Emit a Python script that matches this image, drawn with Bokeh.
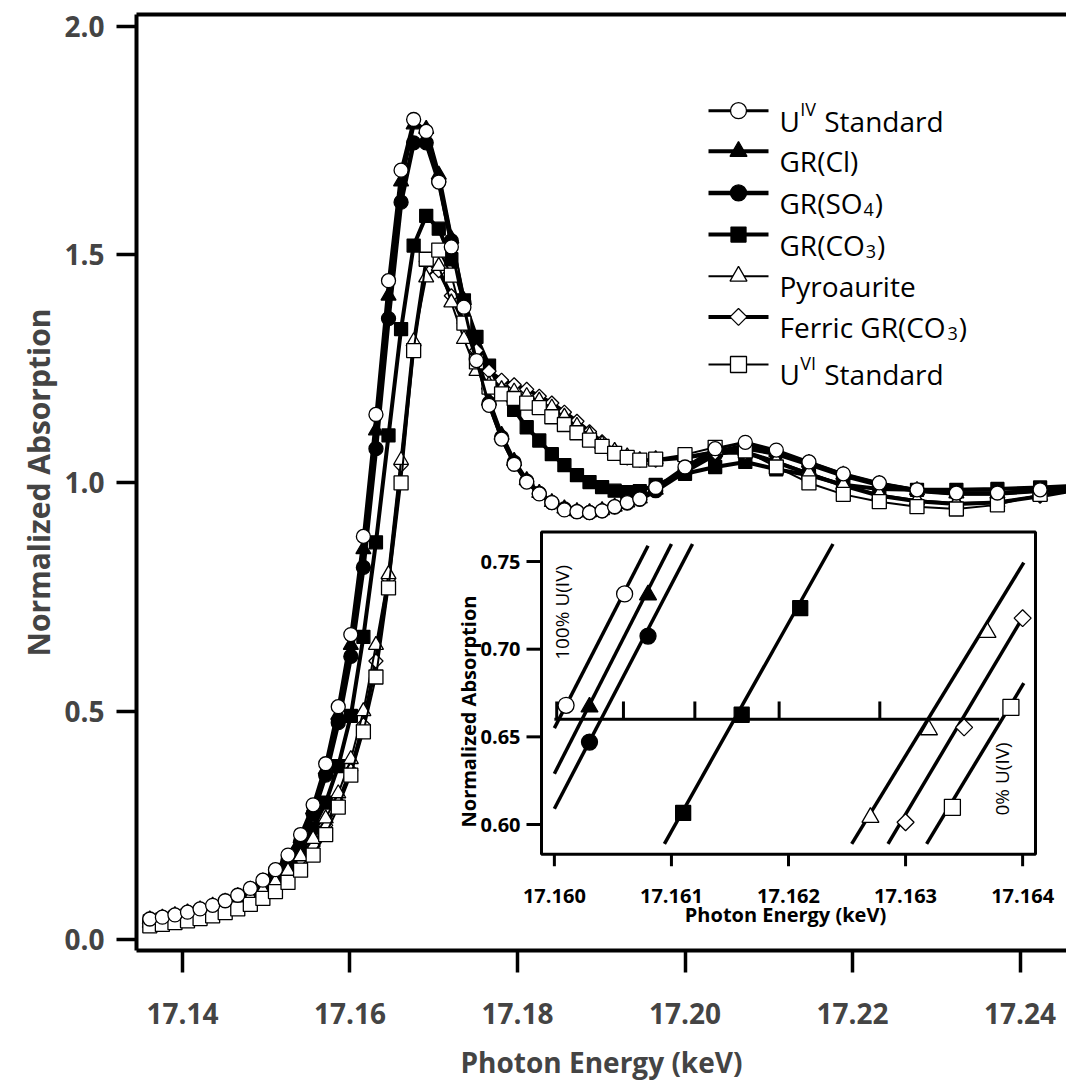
import numpy as np
from bokeh.plotting import figure
from bokeh.models import Range1d, FixedTicker, PrintfTickFormatter, LinearAxis
from bokeh.core.properties import value
from bokeh.embed import file_html
from bokeh.resources import INLINE

# ---------------- data ----------------
ENERGY = [17.1361, 17.1376, 17.1391, 17.1406, 17.1421, 17.1436, 17.1451, 17.1466, 17.1481, 17.1496,
          17.1511, 17.1526, 17.1541,
          17.1556, 17.1571, 17.1586, 17.1601, 17.1616, 17.1631, 17.1646, 17.1661, 17.1676, 17.1691,
          17.1706, 17.1721, 17.1736, 17.1751, 17.1766, 17.1781, 17.1796, 17.1811, 17.1826, 17.1841,
          17.1856, 17.1871, 17.1886, 17.1901, 17.1916, 17.1931, 17.1946,
          17.1965, 17.2000, 17.2036, 17.2072, 17.2109, 17.2148, 17.2189, 17.2232, 17.2277, 17.2324,
          17.2373, 17.2424, 17.2477]

U_IV = [0.045, 0.049, 0.054, 0.060, 0.067, 0.075, 0.085, 0.097, 0.112, 0.130, 0.153, 0.185, 0.230,
        0.295, 0.385, 0.510, 0.668, 0.883, 1.150, 1.443, 1.685, 1.796, 1.770, 1.659, 1.517, 1.385,
        1.268, 1.170, 1.096, 1.041, 1.002, 0.976, 0.957, 0.941, 0.937, 0.935, 0.939, 0.948, 0.957, 0.965,
        0.990, 1.035, 1.075, 1.089, 1.072, 1.046, 1.020, 1.000, 0.985, 0.978, 0.978, 0.985, 0.990]
GR_CL = [0.044, 0.048, 0.053, 0.059, 0.066, 0.074, 0.083, 0.095, 0.109, 0.127, 0.149, 0.179, 0.222,
         0.285, 0.372, 0.492, 0.645, 0.855, 1.115, 1.410, 1.660, 1.785, 1.775, 1.675, 1.535, 1.400,
         1.280, 1.180, 1.105, 1.048, 1.006, 0.978, 0.958, 0.944, 0.938, 0.936, 0.940, 0.948, 0.957, 0.966,
         0.985, 1.030, 1.068, 1.082, 1.068, 1.044, 1.018, 0.998, 0.984, 0.977, 0.977, 0.984, 0.990]
GR_SO4 = [0.043, 0.047, 0.052, 0.058, 0.064, 0.072, 0.081, 0.092, 0.106, 0.123, 0.145, 0.174, 0.215,
          0.276, 0.360, 0.475, 0.620, 0.815, 1.075, 1.360, 1.615, 1.745, 1.745, 1.660, 1.530, 1.395,
          1.275, 1.175, 1.100, 1.045, 1.004, 0.977, 0.957, 0.943, 0.937, 0.935, 0.939, 0.947, 0.956, 0.964,
          0.983, 1.025, 1.062, 1.076, 1.064, 1.041, 1.016, 0.996, 0.983, 0.977, 0.977, 0.983, 0.990]
GR_CO3 = [0.040, 0.044, 0.048, 0.053, 0.059, 0.066, 0.074, 0.084, 0.096, 0.111, 0.130, 0.155, 0.190,
          0.245, 0.300, 0.380, 0.490, 0.663, 0.870, 1.104, 1.337, 1.520, 1.585, 1.557, 1.490, 1.400,
          1.320, 1.257, 1.200, 1.160, 1.122, 1.093, 1.063, 1.039, 1.017, 1.002, 0.991, 0.983, 0.980, 0.982,
          0.996, 1.020, 1.035, 1.046, 1.030, 1.017, 0.996, 0.987, 0.985, 0.985, 0.987, 0.990, 0.995]
PYRO = [0.036, 0.040, 0.044, 0.049, 0.055, 0.062, 0.070, 0.080, 0.092, 0.107, 0.126, 0.150, 0.182,
        0.220, 0.265, 0.320, 0.395, 0.500, 0.645, 0.800, 1.050, 1.310, 1.450, 1.475, 1.395, 1.315,
        1.245, 1.215, 1.205, 1.200, 1.190, 1.180, 1.165, 1.145, 1.125, 1.105, 1.085, 1.070, 1.058, 1.050,
        1.052, 1.058, 1.070, 1.070, 1.048, 1.022, 0.996, 0.975, 0.962, 0.956, 0.958, 0.972, 0.988]
FERRIC = [0.035, 0.039, 0.043, 0.048, 0.054, 0.060, 0.068, 0.078, 0.089, 0.104, 0.122, 0.145, 0.176,
          0.205, 0.250, 0.300, 0.370, 0.470, 0.610, 0.790, 1.039, 1.302, 1.485, 1.465, 1.410, 1.350,
          1.290, 1.245, 1.225, 1.215, 1.205, 1.190, 1.175, 1.155, 1.135, 1.112, 1.090, 1.070, 1.055, 1.050,
          1.050, 1.055, 1.066, 1.066, 1.045, 1.020, 0.994, 0.972, 0.960, 0.954, 0.957, 0.971, 0.988]
U_VI = [0.030, 0.033, 0.037, 0.041, 0.046, 0.052, 0.059, 0.067, 0.077, 0.090, 0.105, 0.125, 0.152,
        0.185, 0.230, 0.290, 0.360, 0.455, 0.575, 0.770, 1.000, 1.290, 1.490, 1.510, 1.455, 1.350,
        1.265, 1.210, 1.195, 1.185, 1.175, 1.165, 1.145, 1.128, 1.110, 1.094, 1.080, 1.065, 1.056, 1.050,
        1.052, 1.062, 1.078, 1.070, 1.035, 1.000, 0.975, 0.959, 0.948, 0.943, 0.952, 0.975, 0.990]

# inset: marker points and the straight fitted lines
IN_U_IV_E, IN_U_IV_A = [17.1601, 17.1606], [0.668, 0.7315]
IN_U_IV_LE, IN_U_IV_LA = [17.16000, 17.16080], [0.655, 0.759]
IN_GR_CL_E, IN_GR_CL_A = [17.1603, 17.1608], [0.667, 0.731]
IN_GR_CL_LE, IN_GR_CL_LA = [17.16000, 17.16100], [0.629, 0.760]
IN_GR_SO4_E, IN_GR_SO4_A = [17.1603, 17.1608], [0.647, 0.7075]
IN_GR_SO4_LE, IN_GR_SO4_LA = [17.16000, 17.16118], [0.609, 0.760]
IN_GR_CO3_E, IN_GR_CO3_A = [17.1611, 17.1616, 17.1621], [0.6066, 0.6626, 0.7234]
IN_GR_CO3_LE, IN_GR_CO3_LA = [17.16094, 17.16238], [0.589, 0.760]
IN_PYRO_E, IN_PYRO_A = [17.1627, 17.1632, 17.1637], [0.604, 0.654, 0.7095]
IN_PYRO_LE, IN_PYRO_LA = [17.16254, 17.16401], [0.589, 0.7494]
IN_FERRIC_E, IN_FERRIC_A = [17.1630, 17.1635, 17.1640], [0.6013, 0.6554, 0.7177]
IN_FERRIC_LE, IN_FERRIC_LA = [17.16285, 17.16400], [0.589, 0.718]
IN_U_VI_E, IN_U_VI_A = [17.1634, 17.1639], [0.6098, 0.6668]
IN_U_VI_LE, IN_U_VI_LA = [17.16318, 17.16401], [0.589, 0.6806]

REF_LEVEL = 0.66
REF_LINE_E = [17.1600, 17.1638]
REF_TICKS_E = [17.16002, 17.16059, 17.1612, 17.16192, 17.16278]

X_TICKS = [17.14, 17.16, 17.18, 17.20, 17.22, 17.24]
Y_TICKS = [0.0, 0.5, 1.0, 1.5, 2.0]
INSET_X_TICKS = [17.160, 17.161, 17.162, 17.163, 17.164]
INSET_Y_TICKS = [0.60, 0.65, 0.70, 0.75]

# ---------------- geometry / style ----------------
PAGE_OFF = 0                                   # observed offset of the figure in the page
W, H = 1066, 1083
FL, FR, FT, FB = 136, 1066, 14, 958            # page pixels of main frame
X0, X1 = 17.13451, 17.24555
Y0, Y1 = -0.024, 2.026
IL, IR, IT, IB = 541, 1035, 536, 861           # page pixels of inset frame
IX0, IX1 = 17.15989, 17.16411
IY0, IY1 = 0.583, 0.7668

FONT = "Open Sans"


def mx(px):
    return X0 + (px - FL) * (X1 - X0) / (FR - FL)


def my(py):
    return Y1 - (py - FT) * (Y1 - Y0) / (FB - FT)


def ix(px):
    return IX0 + (px - IL) * (IX1 - IX0) / (IR - IL)


def iy(py):
    return IY1 - (py - IT) * (IY1 - IY0) / (IB - IT)


STYLE = {
    "U_IV":   dict(marker="circle",   fill="white", size=14, lw=3.0, angle=0.0),
    "GR_CL":  dict(marker="triangle", fill="black", size=15, lw=4.0, angle=0.0),
    "GR_SO4": dict(marker="circle",   fill="black", size=14, lw=4.5, angle=0.0),
    "GR_CO3": dict(marker="square",   fill="black", size=13, lw=4.0, angle=0.0),
    "PYRO":   dict(marker="triangle", fill="white", size=15, lw=2.0, angle=0.0),
    "FERRIC": dict(marker="square",   fill="white", size=10, lw=4.0, angle=np.pi / 4),
    "U_VI":   dict(marker="square",   fill="white", size=14, lw=2.0, angle=0.0),
}

p = figure(width=W, height=H, x_range=Range1d(X0, X1), y_range=Range1d(Y0, Y1),
           output_backend="svg", toolbar_location=None,
           min_border_left=FL - PAGE_OFF, min_border_right=W + PAGE_OFF - FR,
           min_border_top=FT - PAGE_OFF, min_border_bottom=H + PAGE_OFF - FB)
p.outline_line_color = None
p.grid.visible = False
p.background_fill_color = "white"
p.border_fill_color = "white"

for ax in (p.xaxis[0], p.yaxis[0]):
    ax.axis_line_width = 4
    ax.major_tick_line_width = 3.5
    ax.major_tick_in = 0
    ax.minor_tick_line_color = None
    ax.major_label_text_font = FONT
    ax.major_label_text_font_style = "bold"
    ax.major_label_text_font_size = "28px"
    ax.axis_label_text_font = FONT
    ax.axis_label_text_font_style = "bold"
    ax.axis_label_text_font_size = "28px"

p.xaxis.ticker = FixedTicker(ticks=X_TICKS)
p.xaxis.formatter = PrintfTickFormatter(format="%.2f")
p.xaxis.major_tick_out = 22
p.xaxis.major_label_standoff = 30
p.xaxis.axis_label = "Photon Energy (keV)"
p.xaxis.axis_label_standoff = 16

p.yaxis.ticker = FixedTicker(ticks=Y_TICKS)
p.yaxis.formatter = PrintfTickFormatter(format="%.1f")
p.yaxis.major_tick_out = 20
p.yaxis.major_label_standoff = 12
p.yaxis.axis_label = "Normalized Absorption"
p.yaxis.axis_label_text_font_size = "30px"
p.yaxis.axis_label_standoff = 2

top = LinearAxis(ticker=FixedTicker(ticks=[]), axis_line_width=4, major_tick_out=0, major_tick_in=0,
                 major_label_text_font_size="0px", major_label_standoff=0,
                 minor_tick_line_color=None)
p.add_layout(top, "above")

# ---------------- main curves ----------------
DRAW_ORDER = [("GR_SO4", GR_SO4), ("GR_CL", GR_CL), ("GR_CO3", GR_CO3), ("FERRIC", FERRIC),
              ("PYRO", PYRO), ("U_VI", U_VI), ("U_IV", U_IV)]
for key, vals in DRAW_ORDER:
    s = STYLE[key]
    p.line(ENERGY, vals, line_color="black", line_width=s["lw"])
    p.scatter(ENERGY, vals, marker=s["marker"], size=s["size"], fill_color=s["fill"],
              line_color="black", line_width=1.3, angle=s["angle"])

# ---------------- legend (hand-built for sub/superscripts) ----------------
LEGEND_KEYS = ["U_IV", "GR_CL", "GR_SO4", "GR_CO3", "PYRO", "FERRIC", "U_VI"]
LEGEND_PARTS = [
    [("U", "n"), ("IV", "sup"), (" Standard", "n")],
    [("GR(Cl)", "n")],
    [("GR(SO", "n"), ("4", "sub"), (")", "n")],
    [("GR(CO", "n"), ("3", "sub"), (")", "n")],
    [("Pyroaurite", "n")],
    [("Ferric GR(CO", "n"), ("3", "sub"), (")", "n")],
    [("U", "n"), ("VI", "sup"), (" Standard", "n")],
]
LEGEND_ROW_Y = [111, 152, 194, 236, 278, 319, 367]
LEG_X0, LEG_X1, LEG_XM, LEG_TX = 708, 768, 738, 779
MAIN_FS, SCRIPT_FS = 28, 18

OS_W = {' ': 0.26, '(': 0.296, ')': 0.296, '3': 0.572, '4': 0.572, 'C': 0.633, 'F': 0.556,
        'G': 0.734, 'I': 0.279, 'O': 0.781, 'R': 0.635, 'S': 0.55, 'U': 0.742, 'V': 0.593,
        'a': 0.556, 'c': 0.476, 'd': 0.613, 'e': 0.561, 'i': 0.253, 'l': 0.253, 'n': 0.614,
        'o': 0.604, 'r': 0.408, 't': 0.353, 'u': 0.614, 'y': 0.501, 'P': 0.603}


def text_w(t, fs):
    return sum(OS_W.get(ch, 0.56) for ch in t) * fs


for key, parts, ry in zip(LEGEND_KEYS, LEGEND_PARTS, LEGEND_ROW_Y):
    s = STYLE[key]
    p.segment(x0=[mx(LEG_X0)], y0=[my(ry)], x1=[mx(LEG_X1)], y1=[my(ry)],
              line_color="black", line_width=s["lw"])
    p.scatter([mx(LEG_XM)], [my(ry)], marker=s["marker"], size=s["size"] + 2, fill_color=s["fill"],
              line_color="black", line_width=1.3, angle=s["angle"])
    xcur = LEG_TX
    base = ry + 10
    for t, kind in parts:
        fs = MAIN_FS if kind == "n" else SCRIPT_FS
        dy = {"n": 0, "sup": -12, "sub": 7}[kind]
        lead = len(t) - len(t.lstrip(" "))
        xcur += text_w(" " * lead, fs)
        tt = t.strip(" ")
        p.text(x=[mx(xcur)], y=[my(base + dy)], text=[tt], text_font=value(FONT),
               text_font_size=value(f"{fs}px"), text_align="left", text_baseline="alphabetic",
               text_color="black")
        xcur += text_w(tt, fs) + (1 if kind != "n" else 0)

# ---------------- inset ----------------
p.extra_x_ranges = {"ix": Range1d(ix(FL), ix(FR))}
p.extra_y_ranges = {"iy": Range1d(iy(FB), iy(FT))}
IK = dict(x_range_name="ix", y_range_name="iy")

p.quad(left=[IX0], right=[IX1], bottom=[IY0], top=[IY1], fill_color="white",
       line_color="black", line_width=3, **IK)

tick_len_x = 12 * (IY1 - IY0) / (IB - IT)
tick_len_y = 15 * (IX1 - IX0) / (IR - IL)
p.segment(x0=INSET_X_TICKS, y0=[IY0] * len(INSET_X_TICKS), x1=INSET_X_TICKS,
          y1=[IY0 - tick_len_x] * len(INSET_X_TICKS), line_color="black", line_width=3, **IK)
p.segment(x0=[IX0] * len(INSET_Y_TICKS), y0=INSET_Y_TICKS, x1=[IX0 - tick_len_y] * len(INSET_Y_TICKS),
          y1=INSET_Y_TICKS, line_color="black", line_width=3, **IK)
p.text(x=INSET_X_TICKS, y=[iy(903)] * len(INSET_X_TICKS), text=["%.3f" % t for t in INSET_X_TICKS],
       text_font=value(FONT), text_font_style="bold", text_font_size=value("20px"),
       text_align="center", text_baseline="middle", **IK)
p.text(x=[ix(520)] * len(INSET_Y_TICKS), y=INSET_Y_TICKS, text=["%.2f" % t for t in INSET_Y_TICKS],
       text_font=value(FONT), text_font_style="bold", text_font_size=value("20px"),
       text_align="right", text_baseline="middle", **IK)
p.text(x=[ix(785)], y=[iy(922)], text=["Photon Energy (keV)"], text_font=value(FONT),
       text_font_style="bold", text_font_size=value("20px"), text_align="center",
       text_baseline="middle", **IK)
p.text(x=[ix(468)], y=[iy(717)], text=["Normalized Absorption"], text_font=value(FONT),
       text_font_style="bold", text_font_size=value("20px"), text_align="center",
       text_baseline="middle", angle=np.pi / 2, **IK)
p.text(x=[ix(561)], y=[iy(617)], text=["100% U(IV)"], text_font=value(FONT),
       text_font_size=value("19px"), text_align="center", text_baseline="middle",
       angle=np.pi / 2, **IK)
p.text(x=[ix(1001)], y=[iy(785)], text=["0% U(IV)"], text_font=value(FONT),
       text_font_size=value("19px"), text_align="center", text_baseline="middle",
       angle=np.pi / 2, **IK)

# reference level line with its ticks
ref_tick_h = 18 * (IY1 - IY0) / (IB - IT)
p.line(REF_LINE_E, [REF_LEVEL, REF_LEVEL], line_color="black", line_width=3, **IK)
p.segment(x0=REF_TICKS_E, y0=[REF_LEVEL] * len(REF_TICKS_E), x1=REF_TICKS_E,
          y1=[REF_LEVEL + ref_tick_h] * len(REF_TICKS_E), line_color="black", line_width=3, **IK)

INSET_SERIES = [
    ("GR_SO4", IN_GR_SO4_LE, IN_GR_SO4_LA, IN_GR_SO4_E, IN_GR_SO4_A),
    ("GR_CL", IN_GR_CL_LE, IN_GR_CL_LA, IN_GR_CL_E, IN_GR_CL_A),
    ("U_IV", IN_U_IV_LE, IN_U_IV_LA, IN_U_IV_E, IN_U_IV_A),
    ("GR_CO3", IN_GR_CO3_LE, IN_GR_CO3_LA, IN_GR_CO3_E, IN_GR_CO3_A),
    ("PYRO", IN_PYRO_LE, IN_PYRO_LA, IN_PYRO_E, IN_PYRO_A),
    ("FERRIC", IN_FERRIC_LE, IN_FERRIC_LA, IN_FERRIC_E, IN_FERRIC_A),
    ("U_VI", IN_U_VI_LE, IN_U_VI_LA, IN_U_VI_E, IN_U_VI_A),
]
for key, le, la, me, ma in INSET_SERIES:
    s = STYLE[key]
    p.line(le, la, line_color="black", line_width=3.5, **IK)
    p.scatter(me, ma, marker=s["marker"], size=s["size"] + 2, fill_color=s["fill"],
              line_color="black", line_width=1.3, angle=s["angle"], **IK)

open("out.html", "w").write(file_html(p, INLINE))
